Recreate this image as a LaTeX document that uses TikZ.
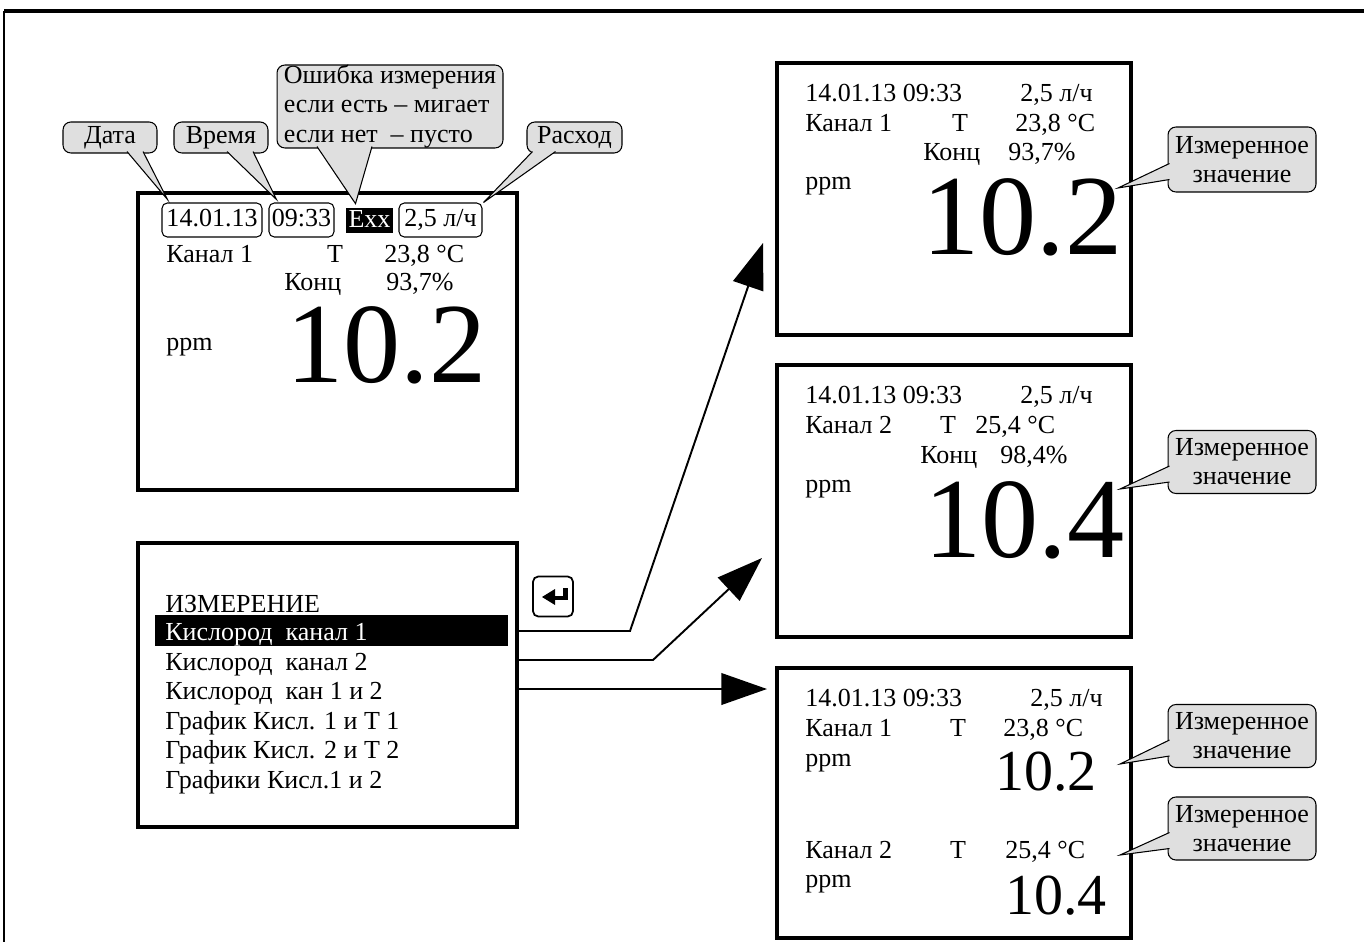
\documentclass[tikz,border=0pt]{standalone}
\usepackage{fontspec}
\setmainfont{Liberation Serif}
\usetikzlibrary{arrows.meta,calc}

% указатель выноски: #1, #2 -- основание, #3 -- острие
\newcommand{\callptr}[3]{%
  \fill[gray!25] #1 -- #3 -- #2 -- cycle;
  \draw[line width=0.6pt] #1 -- #3 -- #2;}

\begin{document}
\begin{tikzpicture}[x=0.02cm, y=-0.02cm] % координаты в пикселях
\tikzstyle{txt} = [anchor=base west, inner sep=0pt, font=\fontsize{14.8}{16.8}\selectfont] % обычный текст
\tikzstyle{big} = [anchor=base west, inner sep=0pt, text height=44pt, text depth=0pt, font=\fontsize{65}{65}\selectfont] % крупное значение
\tikzstyle{mid} = [anchor=base west, inner sep=0pt, text height=22.5pt, text depth=0pt, font=\fontsize{33}{33}\selectfont] % среднее значение
\tikzstyle{disp} = [draw, line width=2.2pt, inner sep=0pt] % экран прибора
\tikzstyle{fld} = [draw, line width=0.6pt, rounded corners=3pt, inner sep=1pt, text height=10.5pt, text depth=3pt, font=\fontsize{14.8}{16.8}\selectfont] % поле в строке
\tikzstyle{note} = [draw, fill=gray!25, line width=0.6pt, rounded corners=4.5pt, inner sep=0pt, font=\fontsize{14.8}{16.6}\selectfont] % выноска
\tikzstyle{arr} = [line width=1.1pt, -{Triangle[length=26pt, width=18pt]}] % стрелка перехода
\useasboundingbox (0,0) rectangle (1364,942);
\draw[line width=1.8pt] (1364,11) -- (4,11);
\draw[line width=1.2pt] (4,11) -- (4,942);

% экран измерения с пояснениями
\node[disp, minimum width=7.58cm, minimum height=5.94cm] (dispA) at (327.5,341.5) {};
\node[fld, minimum width=2cm, minimum height=0.68cm] (date) at (212,220) {14.01.13};
\node[fld, minimum width=1.3cm, minimum height=0.68cm] (time) at (301.5,220) {09:33};
\node[fill=black, text=white, inner sep=1pt, minimum width=0.94cm, minimum height=0.5cm, text height=10pt, text depth=2pt, font=\fontsize{14.8}{16.8}\selectfont] (err) at (369.5,220.5) {Exx};
\node[fld, minimum width=1.66cm, minimum height=0.68cm] (flow) at (440.5,220) {2,5 л/ч};
\node[txt] at (166,263) {Канал 1};
\node[txt, anchor=base] at (335,263) {T};
\node[txt] at (384,263) {23,8 °C};
\node[txt] at (284,291) {Конц};
\node[txt] at (386,291) {93,7\%};
\node[txt] at (166,350) {ppm};
\node[big] at (286,382) {10.2};

\node[note, minimum width=1.88cm, minimum height=0.62cm] (cDate) at (110,137.5) {Дата};
\node[note, minimum width=1.88cm, minimum height=0.62cm] (cTime) at (221,137.5) {Время};
\node[note, minimum width=4.52cm, minimum height=1.66cm, align=left] (cErr) at (390,106.5) {Ошибка измерения\\если есть – мигает\\если нет~ – пусто};
\node[note, minimum width=1.9cm, minimum height=0.62cm] (cFlow) at (574.5,137.5) {Расход};
\callptr{($(cDate.south)+(17,-2)$)}{($(cDate.south)+(33,-2)$)}{($(date.north west)+(6,-3)$)}
\callptr{($(cTime.south)+(6,-2)$)}{($(cTime.south)+(32,-2)$)}{($(time.north west)+(8,-3)$)}
\callptr{($(cErr.south)+(-73,-2)$)}{($(cErr.south)+(-18,-2)$)}{($(err.north)+(-14,-4)$)}
\callptr{($(cFlow.south)+(-42,-2)$)}{($(cFlow.south)+(-19,-2)$)}{($(flow.north east)+(1,0)$)}

% меню выбора
\node[disp, minimum width=7.58cm, minimum height=5.68cm] (menu) at (327.5,685) {};
\node[txt] at (165,612) {ИЗМЕРЕНИЕ};
\node[fill=black, minimum width=7.06cm, minimum height=0.62cm, inner sep=0pt] (sel) at (331.5,630.5) {};
\node[txt, text=white] (m1) at (165,640) {Кислород~ канал 1};
\node[txt] (m2) at (165,670) {Кислород~ канал 2};
\node[txt] (m3) at (165,699) {Кислород~ кан 1 и 2};
\node[txt] (m4) at (165,729) {График Кисл. 1 и Т 1};
\node[txt] (m5) at (165,758) {График Кисл. 2 и Т 2};
\node[txt] (m6) at (165,788) {Графики Кисл.1 и 2};

% клавиша ввода
\node[draw, line width=1pt, rounded corners=3pt, minimum size=0.8cm] (ent) at (553,596.5) {};
\fill (542,597) -- (555,589) -- (555,605) -- cycle;
\fill (554,595.5) rectangle (568,600);
\fill (563,588) rectangle (568,600);

% переходы
\coordinate (tipC) at (763,243);
\coordinate (tipD) at (762,558);
\coordinate (tipE) at (767,689);
\draw[arr] (menu.east |- 0,631) -- (630,631) -- (tipC);
\draw[arr] (menu.east |- 0,660) -- (653,660) -- (tipD);
\draw[arr] (menu.east |- 0,689) -- (tipE);

% канал 1
\node[disp, minimum width=7.08cm, minimum height=5.44cm] (dispC) at (954,199) {};
\node[txt] at (805,102) {14.01.13 09:33};
\node[txt] at (1020,102) {2,5 л/ч};
\node[txt] at (805,132) {Канал 1};
\node[txt, anchor=base] at (960,132) {T};
\node[txt] at (1015,132) {23,8 °C};
\node[txt] at (923,161) {Конц};
\node[txt] at (1008,161) {93,7\%};
\node[txt] at (805,190) {ppm};
\node[big] (vC) at (922,255) {10.2};
\node[note, minimum width=2.96cm, minimum height=1.3cm, align=center] (cC) at (1242,159.5) {Измеренное\\значение};
\coordinate (pC) at (1118,188);
\callptr{($(cC.west)+(2,4)$)}{($(cC.west)+(2,20)$)}{(pC)}

% канал 2
\node[disp, minimum width=7.08cm, minimum height=5.44cm] (dispD) at (954,501) {};
\node[txt] at (805,403) {14.01.13 09:33};
\node[txt] at (1020,403) {2,5 л/ч};
\node[txt] at (805,433) {Канал 2};
\node[txt, anchor=base] at (948,433) {T};
\node[txt] at (975,433) {25,4 °C};
\node[txt] at (920,463) {Конц};
\node[txt] at (1000,463) {98,4\%};
\node[txt] at (805,492) {ppm};
\node[big] (vD) at (924,557) {10.4};
\node[note, minimum width=2.96cm, minimum height=1.26cm, align=center] (cD) at (1242,462) {Измеренное\\значение};
\coordinate (pD) at (1120,489);
\callptr{($(cD.west)+(2,4)$)}{($(cD.west)+(2,20)$)}{(pD)}

% каналы 1 и 2
\node[disp, minimum width=7.08cm, minimum height=5.4cm] (dispE) at (954,803) {};
\node[txt] at (805,706) {14.01.13 09:33};
\node[txt] at (1030,706) {2,5 л/ч};
\node[txt] at (805,736) {Канал 1};
\node[txt, anchor=base] at (958,736) {T};
\node[txt] at (1003,736) {23,8 °C};
\node[txt] at (805,766) {ppm};
\node[mid] (vE1) at (995,790) {10.2};
\node[txt] at (805,858) {Канал 2};
\node[txt, anchor=base] at (958,858) {T};
\node[txt] at (1005,858) {25,4 °C};
\node[txt] at (805,887) {ppm};
\node[mid] (vE2) at (1005,914) {10.4};
\node[note, minimum width=2.96cm, minimum height=1.26cm, align=center] (cE1) at (1242,736) {Измеренное\\значение};
\node[note, minimum width=2.96cm, minimum height=1.26cm, align=center] (cE2) at (1242,828.5) {Измеренное\\значение};
\coordinate (pE1) at (1120,764);
\coordinate (pE2) at (1120,855);
\callptr{($(cE1.west)+(2,4)$)}{($(cE1.west)+(2,20)$)}{(pE1)}
\callptr{($(cE2.west)+(2,4)$)}{($(cE2.west)+(2,20)$)}{(pE2)}
\end{tikzpicture}
\end{document}
